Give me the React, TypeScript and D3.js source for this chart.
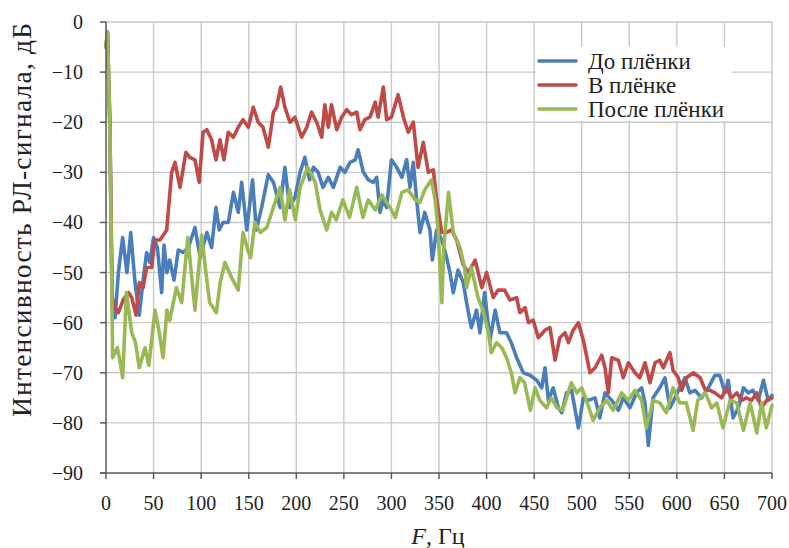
import React from "react";
import * as d3 from "d3";

// Спектры РЛ-сигнала: [частота, Гц; интенсивность, дБ]
const beforeFilm: [number, number][] = [
  [0, -5], [1.5, -2], [4, -20], [6.5, -57], [9.5, -59], [13, -50], [17.5, -43], [22, -50], [26, -42], [30.5, -52], [35, -58.5],
  [39, -51.5], [42.7, -46], [46, -48], [50, -43], [54, -45], [58.5, -54], [61, -44.5], [64, -50], [67, -47.5],
  [71.5, -51.5], [76, -45.5], [81, -46], [86.5, -45], [93.5, -41], [99, -47], [106, -42], [111, -45],
  [115.6, -37], [119, -41.5], [123, -40], [128.5, -40], [134, -34], [139, -38], [142.6, -32], [148, -41.5],
  [154, -31.5], [158, -41.5], [163.6, -37], [170.5, -30.5], [176, -32], [183, -37], [188, -29], [193, -37],
  [198.6, -35], [204, -30], [209, -27], [214, -31.5], [218, -29], [223, -30], [228, -33], [233.7, -31],
  [239, -33], [246, -29], [251, -30], [256.5, -28], [262, -27.5], [265, -25.5], [270.5, -30], [275.7, -31.5],
  [281, -32], [284.5, -31], [288, -38], [291.4, -35.5], [295, -37], [300, -27.5], [305.5, -29], [311, -31],
  [316, -27.5], [319.5, -33], [323, -28], [326.5, -35.5], [330, -42], [335, -38], [340.5, -41.5], [343, -47.5],
  [347.5, -41.5], [353, -43.5], [358, -47], [361.5, -50], [365, -54], [370, -49.5], [375.5, -52], [379, -56],
  [384, -61], [389.5, -57.5], [393, -62], [398, -54], [403.6, -63.5], [409, -57.5], [414, -62], [421, -62],
  [426, -64], [431.6, -67], [438.6, -70], [445.6, -70.5], [452.7, -71.5], [458, -73], [461.4, -69], [465, -75.5],
  [470, -73], [475.5, -77], [479, -78], [484, -74], [489.4, -73.5], [496.5, -81], [501.7, -75], [507, -75.5],
  [514, -75], [519, -79], [524.5, -74], [531.5, -75.5], [538.5, -77.5], [543.7, -75], [550.7, -77], [557.7, -74],
  [563, -73], [566.5, -76], [570, -84.5], [575, -75], [582, -73], [587.5, -71], [592.7, -77], [598, -75],
  [603, -73], [608.5, -71], [613.6, -74], [619, -73.5], [626, -75], [633, -73], [640, -70.5], [645, -70.5],
  [650.6, -74], [654, -71.5], [659, -79], [664.6, -77], [670, -73], [675, -74], [680, -73.5], [685.6, -75.5],
  [691, -71.5], [696, -75.5], [700, -74.5],
];

const inFilm: [number, number][] = [
  [0, -5], [1.5, -2], [4, -20], [6.5, -55], [9.5, -57], [13, -58], [18, -55.5], [23.5, -54], [27, -55], [31.5, -58.5], [35, -52],
  [39, -53], [42.7, -49], [48, -49], [51.4, -43.5], [56.7, -43.5], [63.8, -41.5], [69, -30], [72.5, -28],
  [77.8, -33], [84, -26], [88, -27], [93.5, -27.5], [98, -32], [102, -22], [106, -21.5], [111, -23.5],
  [115.6, -27.5], [119.8, -23.5], [124, -27.5], [128.5, -22], [133.8, -23], [139, -21], [144, -19.5],
  [149.6, -21], [154.8, -17], [160, -20], [165, -21], [170.6, -25], [176, -18], [179.3, -17], [183.6, -13],
  [188, -17], [193.4, -20], [198.6, -19], [205.6, -23], [211, -21], [216, -18], [221.5, -20], [226.7, -23],
  [230, -16.5], [233.7, -21], [237, -16.5], [242.5, -21.5], [247.7, -19], [253, -17.5], [258, -18.5],
  [263.5, -18], [267, -21.5], [272, -19.5], [277.5, -19], [283, -16], [286, -19], [291.5, -13], [295, -19.5],
  [300, -19], [307, -14.5], [312.6, -19], [317.7, -22], [323, -20], [328, -29], [333.5, -24], [338.8, -30],
  [344, -29.5], [347.6, -35.5], [352.8, -42], [358, -42], [363, -41.5], [368.6, -43.5], [375.5, -48.5],
  [381, -50], [388, -47.5], [395, -53], [400, -50], [407, -55], [412, -53.5], [419, -53.5], [424.6, -55.5],
  [431.6, -55], [435, -58], [440.5, -57], [444, -60], [449, -59.5], [454.4, -63], [461.4, -61.5], [466.7, -61],
  [472, -67.5], [477, -63], [482.5, -62], [486, -64], [491, -61.5], [496.5, -60], [501.7, -63.5], [508.7, -70],
  [514, -69], [521, -66.5], [524.5, -69], [528, -74], [531.5, -67], [538.5, -67.5], [543.7, -71], [549, -68],
  [556, -70], [561, -71], [566.5, -68], [571.8, -72], [577, -68], [582, -67.5], [585.7, -69], [592.7, -66],
  [596, -69.5], [601.5, -71], [605, -73.5], [610, -71], [617.4, -70], [624.4, -71], [630, -73.5], [635, -73.5],
  [640, -74], [647, -75], [652, -73], [657.6, -75], [663, -74], [668, -75.5], [673, -75], [678.6, -75.5],
  [684, -74], [689, -77], [694.4, -75.5], [700, -75],
];

const afterFilm: [number, number][] = [
  [0, -5], [1.5, -2], [4, -20], [7, -67], [12, -65], [15, -68], [17.5, -71], [21.5, -54], [27, -62], [31, -64],
  [35, -69], [41, -65], [45, -68.5], [51.5, -57.5], [56, -62], [60, -67], [64, -57.5], [67, -59.5], [74, -53],
  [79.5, -56], [86, -43], [93.5, -57.5], [100.5, -42.5], [105, -50], [109, -56], [116, -58], [120, -52],
  [125, -48], [132, -51], [139, -53.5], [144, -42], [149, -45.5], [152, -47], [156.5, -40], [162, -42],
  [169, -41], [176, -37], [183, -33], [188, -39.5], [193, -33.5], [199, -39.5], [204, -33], [212, -29],
  [220, -32], [225, -37.5], [232, -41.5], [237, -38], [242, -39.5], [249, -35.5], [256, -39], [263.5, -33],
  [270, -39], [275.5, -35.5], [283, -37.5], [290, -34.5], [298.5, -37], [304, -39], [311, -34], [317.5, -33.5],
  [325, -35.5], [330, -36], [335, -33.5], [342, -31.5], [346, -35.5], [349, -41.5], [353, -56], [355, -45],
  [360, -34], [365, -42], [372, -45], [377, -49], [379, -53], [384, -49], [391, -55], [396, -57.5], [402, -62],
  [405, -66], [410.5, -64], [416, -65], [421, -67], [426, -70], [430, -74], [435, -71], [440, -72], [446, -77.5],
  [451, -73], [456, -75.5], [463, -77], [468, -75], [474, -77], [480, -77.5], [489, -72], [495, -74], [500, -73],
  [505, -75.5], [512, -79.5], [519, -77], [526, -75.5], [533, -77.5], [542, -74], [549, -75.5], [556, -73.5],
  [563, -75.5], [568, -81], [575, -75.5], [582, -76], [589, -78], [596, -73], [603, -76], [610, -76],
  [617, -81.5], [622, -75.5], [630, -74], [636.5, -77], [642, -76], [648.5, -81], [656, -75.5], [663, -76],
  [670, -81.5], [677, -76], [684, -82], [689, -76], [694, -81], [700, -76.5],
];

const seriesNames = ["До плёнки", "В плёнке", "После плёнки"];
const seriesColors = ["#4A7EBB", "#BE4B48", "#98B954"];
const seriesData = [beforeFilm, inFilm, afterFilm];

const xTicks = d3.range(0, 701, 50);
const yTicks = d3.range(0, -91, -10);

const W = 789;
const H = 548;
const plot = { left: 106, right: 772, top: 22, bottom: 473 };
const FONT = "'Liberation Serif', 'Times New Roman', serif";

export default function App() {
  const x = d3.scaleLinear().domain([0, 700]).range([plot.left, plot.right]);
  const y = d3.scaleLinear().domain([-90, 0]).range([plot.bottom, plot.top]);
  const line = d3
    .line<[number, number]>()
    .x((d) => x(d[0]))
    .y((d) => y(d[1]));

  const fmt = (v: number) => (v < 0 ? "\u2212" + Math.abs(v) : String(v));

  return (
    <svg
      width={W}
      height={H}
      style={{ position: "fixed", left: 0, top: 0, background: "#fff" }}
      fontFamily={FONT}
    >
      <rect x={0} y={0} width={W} height={H} fill="#fff" />
      {/* сетка */}
      <g stroke="#C9C9C9" strokeWidth={1.4}>
        {yTicks
          .filter((t) => t > -90)
          .map((t) => (
            <line key={"gy" + t} x1={plot.left} x2={plot.right} y1={y(t)} y2={y(t)} />
          ))}
        {xTicks
          .filter((t) => t > 0)
          .map((t) => (
            <line key={"gx" + t} x1={x(t)} x2={x(t)} y1={plot.top} y2={plot.bottom} />
          ))}
      </g>
      {/* кривые */}
      {seriesData.map((data, i) => (
        <path
          key={seriesNames[i]}
          d={line(data) ?? ""}
          fill="none"
          stroke={seriesColors[i]}
          strokeWidth={3.6}
          strokeLinejoin="round"
          strokeLinecap="round"
        />
      ))}
      {/* оси */}
      <g stroke="#595959" strokeWidth={1.5}>
        <line x1={plot.left} x2={plot.left} y1={plot.top} y2={plot.bottom} />
        <line x1={plot.left - 6} x2={plot.right} y1={plot.bottom} y2={plot.bottom} />
        {yTicks.map((t) => (
          <line key={"ty" + t} x1={plot.left - 6} x2={plot.left} y1={y(t)} y2={y(t)} />
        ))}
        {xTicks.map((t) => (
          <line key={"tx" + t} x1={x(t)} x2={x(t)} y1={plot.bottom} y2={plot.bottom + 6} />
        ))}
      </g>
      {/* подписи делений */}
      <g fontSize={20} fill="#222">
        {yTicks.map((t) => (
          <text key={"ly" + t} x={83} y={y(t)} dy="0.35em" textAnchor="end">
            {fmt(t)}
          </text>
        ))}
        {xTicks.map((t) => (
          <text key={"lx" + t} x={x(t)} y={510} textAnchor="middle">
            {t}
          </text>
        ))}
      </g>
      {/* названия осей */}
      <text
        transform={`translate(31, 220) rotate(-90)`}
        textAnchor="middle"
        fontSize={27.5}
        textLength={394}
        lengthAdjust="spacing"
        fill="#222"
      >
        Интенсивность РЛ-сигнала, дБ
      </text>
      <text x={438} y={544} textAnchor="middle" fontSize={24} fill="#222">
        <tspan fontStyle="italic">F</tspan>, Гц
      </text>
      {/* легенда */}
      <rect x={536} y={47} width={196} height={74} fill="#fff" />
      {seriesNames.map((name, i) => {
        const ly = 61 + i * 24;
        return (
          <g key={"lg" + name}>
            <line x1={539} x2={576} y1={ly} y2={ly} stroke={seriesColors[i]} strokeWidth={3.6} strokeLinecap="round" />
            <text x={588} y={ly} dy="0.35em" fontSize={23} fill="#222">
              {name}
            </text>
          </g>
        );
      })}
    </svg>
  );
}
